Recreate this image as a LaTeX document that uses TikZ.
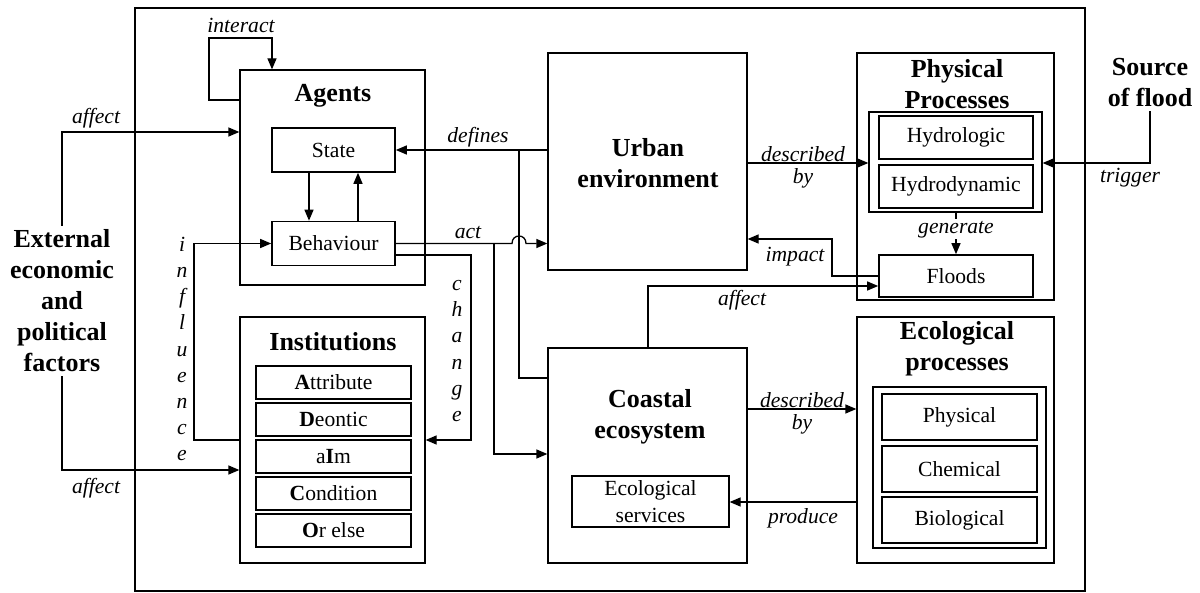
\documentclass[tikz,border=0pt]{standalone}
\usepackage{fontspec}
\setmainfont{Liberation Serif}
\usetikzlibrary{arrows.meta}
\begin{document}
\begin{tikzpicture}[x=1pt,y=-1pt,
  box/.style={draw, line width=1.3pt, inner sep=0pt},
  cell/.style={draw, line width=1.6pt, inner sep=0pt, font=\fontsize{21.6}{26}\selectfont},
  arr/.style={line width=1.3pt, -{Triangle[length=11pt,width=9pt]}},
  wire/.style={line width=1.3pt},
  title/.style={font=\fontsize{26}{31}\selectfont\bfseries, align=center, inner sep=0pt},
  txt/.style={font=\fontsize{21.6}{27}\selectfont, align=center, inner sep=0pt},
  lbl/.style={font=\fontsize{21.6}{26}\selectfont\itshape, align=center, inner sep=0pt},
  stack/.style={font=\fontsize{21.6}{26.2}\selectfont\itshape, align=center, inner sep=0pt},
]
\useasboundingbox (0,0) rectangle (1200,593);

% outer frame of the model
\node[draw, line width=2.5pt, minimum width=950pt, minimum height=583pt, inner sep=0pt] (frame) at (610,299.5) {};

% ---------- Agents ----------
\node[box, minimum width=185pt, minimum height=215pt] (agents) at (332.5,177.5) {};
\node[title] (agentsT) at (333,96) {Agents};
\node[cell, minimum width=123pt, minimum height=44pt] (state) at (333.5,150) {State};
\node[cell, minimum width=123pt, minimum height=44pt] (behav) at (333.5,243.5) {Behaviour};

% ---------- Institutions ----------
\node[box, minimum width=185pt, minimum height=246pt] (inst) at (332.5,440) {};
\node[title] (instT) at (333,342) {Institutions};
\node[cell, minimum width=155pt, minimum height=33pt] (r1) at (333.5,382.5) {\textbf{A}ttribute};
\node[cell, minimum width=155pt, minimum height=33pt] (r2) at (333.5,419.5) {\textbf{D}eontic};
\node[cell, minimum width=155pt, minimum height=33pt] (r3) at (333.5,456.5) {a\textbf{I}m};
\node[cell, minimum width=155pt, minimum height=33pt] (r4) at (333.5,493.5) {\textbf{C}ondition};
\node[cell, minimum width=155pt, minimum height=33pt] (r5) at (333.5,530.5) {\textbf{O}r else};

% ---------- Urban environment ----------
\node[box, minimum width=199pt, minimum height=217pt] (urban) at (647.5,161.5) {};
\node[title] (urbanT) at (648,163) {Urban\\environment};

% ---------- Coastal ecosystem ----------
\node[box, minimum width=199pt, minimum height=215pt] (coastal) at (647.5,455.5) {};
\node[title] (coastalT) at (650,417) {Coastal\\ecosystem};
\node[draw, line width=1.3pt, minimum width=157pt, minimum height=51pt, inner sep=0pt,
      txt] (ecoserv) at (650.5,501.5) {Ecological\\services};

% ---------- Physical processes ----------
\node[box, minimum width=197pt, minimum height=247pt] (phys) at (955.5,176.5) {};
\node[title] (physT) at (957,84) {Physical\\Processes};
\node[box, minimum width=173pt, minimum height=100pt] (physin) at (955.5,162) {};
\node[cell, minimum width=154pt, minimum height=43pt] (hydro) at (956,137.5) {Hydrologic};
\node[cell, minimum width=154pt, minimum height=43pt] (hydrodyn) at (956,186.5) {Hydrodynamic};
\node[cell, minimum width=154pt, minimum height=42pt] (floods) at (956,276) {Floods};

% ---------- Ecological processes ----------
\node[box, minimum width=197pt, minimum height=246pt] (eco) at (955.5,440) {};
\node[title] (ecoT) at (957,349) {Ecological\\processes};
\node[box, minimum width=173pt, minimum height=161pt] (ecoin) at (959.5,467.5) {};
\node[cell, minimum width=155pt, minimum height=46pt] (ph) at (959.5,417) {Physical};
\node[cell, minimum width=155pt, minimum height=46pt] (ch) at (959.5,469) {Chemical};
\node[cell, minimum width=155pt, minimum height=46pt] (bi) at (959.5,520) {Biological};

% ---------- outside drivers ----------
\node[title, inner sep=4pt] (ext) at (62,301) {External\\economic\\and\\political\\factors};
\node[title, inner sep=4pt] (source) at (1150,83) {Source\\of flood};

% ---------- connectors ----------
% agents interact with each other
\draw[arr] (agents.west |- 0,100) -- (209,100) -- (209,38) -- (272,38) -- (agents.north -| 272,0);
\node[lbl] at (241,25) {interact};

% external factors
\draw[arr] (ext.north) |- (agents.west |- 0,132);
\node[lbl] at (96,118) {affect};
\draw[arr] (ext.south) |- (inst.west |- 0,470);
\node[lbl] at (96,488) {affect};

% state <-> behaviour
\draw[arr] (state.south -| 309,0) -- (behav.north -| 309,0);
\draw[arr] (behav.north -| 358,0) -- (state.south -| 358,0);

% institutions influence behaviour
\draw[arr] (inst.west |- 0,440) -- (194,440) |- (behav.west);
\node[stack] at (182,349) {i\\n\\f\\l\\u\\e\\n\\c\\e};

% behaviour changes institutions
\draw[arr] (behav.east |- 0,255) -- (471,255) |- (inst.east |- 0,440);
\node[stack] at (457,351) {c\\h\\a\\n\\g\\e};

% environment defines the agents' state
\draw[arr] (urban.west |- 0,150) -- (state.east |- 0,150);
\draw[wire] (coastal.west |- 0,378) -- (519,378) -- (519,150);
\node[lbl] at (478,137) {defines};

% behaviour acts on both environments
\coordinate (actsplit) at (494,243.5);
\draw[arr] (behav.east) -- (512,243.5) .. controls (512,233.5) and (526,233.5) .. (526,243.5) -- (urban.west |- 0,243.5);
\draw[arr] (actsplit) |- (coastal.west |- 0,454);
\node[lbl] at (468,233) {act};

% urban environment described by physical processes
\draw[arr] (urban.east |- 0,163) -- (physin.west |- 0,163);
\node[lbl] at (803,154) {described};
\node[lbl] at (803,178) {by};

% flood source triggers physical processes
\draw[arr] (source.south) |- (physin.east |- 0,163);
\node[lbl] at (1130,178) {trigger};

% processes generate floods
\draw[arr] (physin.south -| 956,0) -- (floods.north) node[lbl, fill=white, inner sep=1.5pt, pos=0.4] {generate};

% floods impact the urban environment
\draw[arr] (floods.west) -- (832,276) |- (urban.east |- 0,239);
\node[lbl] at (795,257) {impact};

% coastal ecosystem affects floods
\draw[arr] (coastal.north -| 648,0) |- (floods.west |- 0,286);
\node[lbl] at (742,300) {affect};

% coastal ecosystem described by ecological processes
\draw[arr] (coastal.east |- 0,409) -- (eco.west |- 0,409);
\node[lbl] at (802,400) {described};
\node[lbl] at (802,424) {by};

% ecological processes produce services
\draw[arr] (eco.west |- 0,502) -- (ecoserv.east |- 0,502);
\node[lbl] at (803,518) {produce};

\end{tikzpicture}
\end{document}
